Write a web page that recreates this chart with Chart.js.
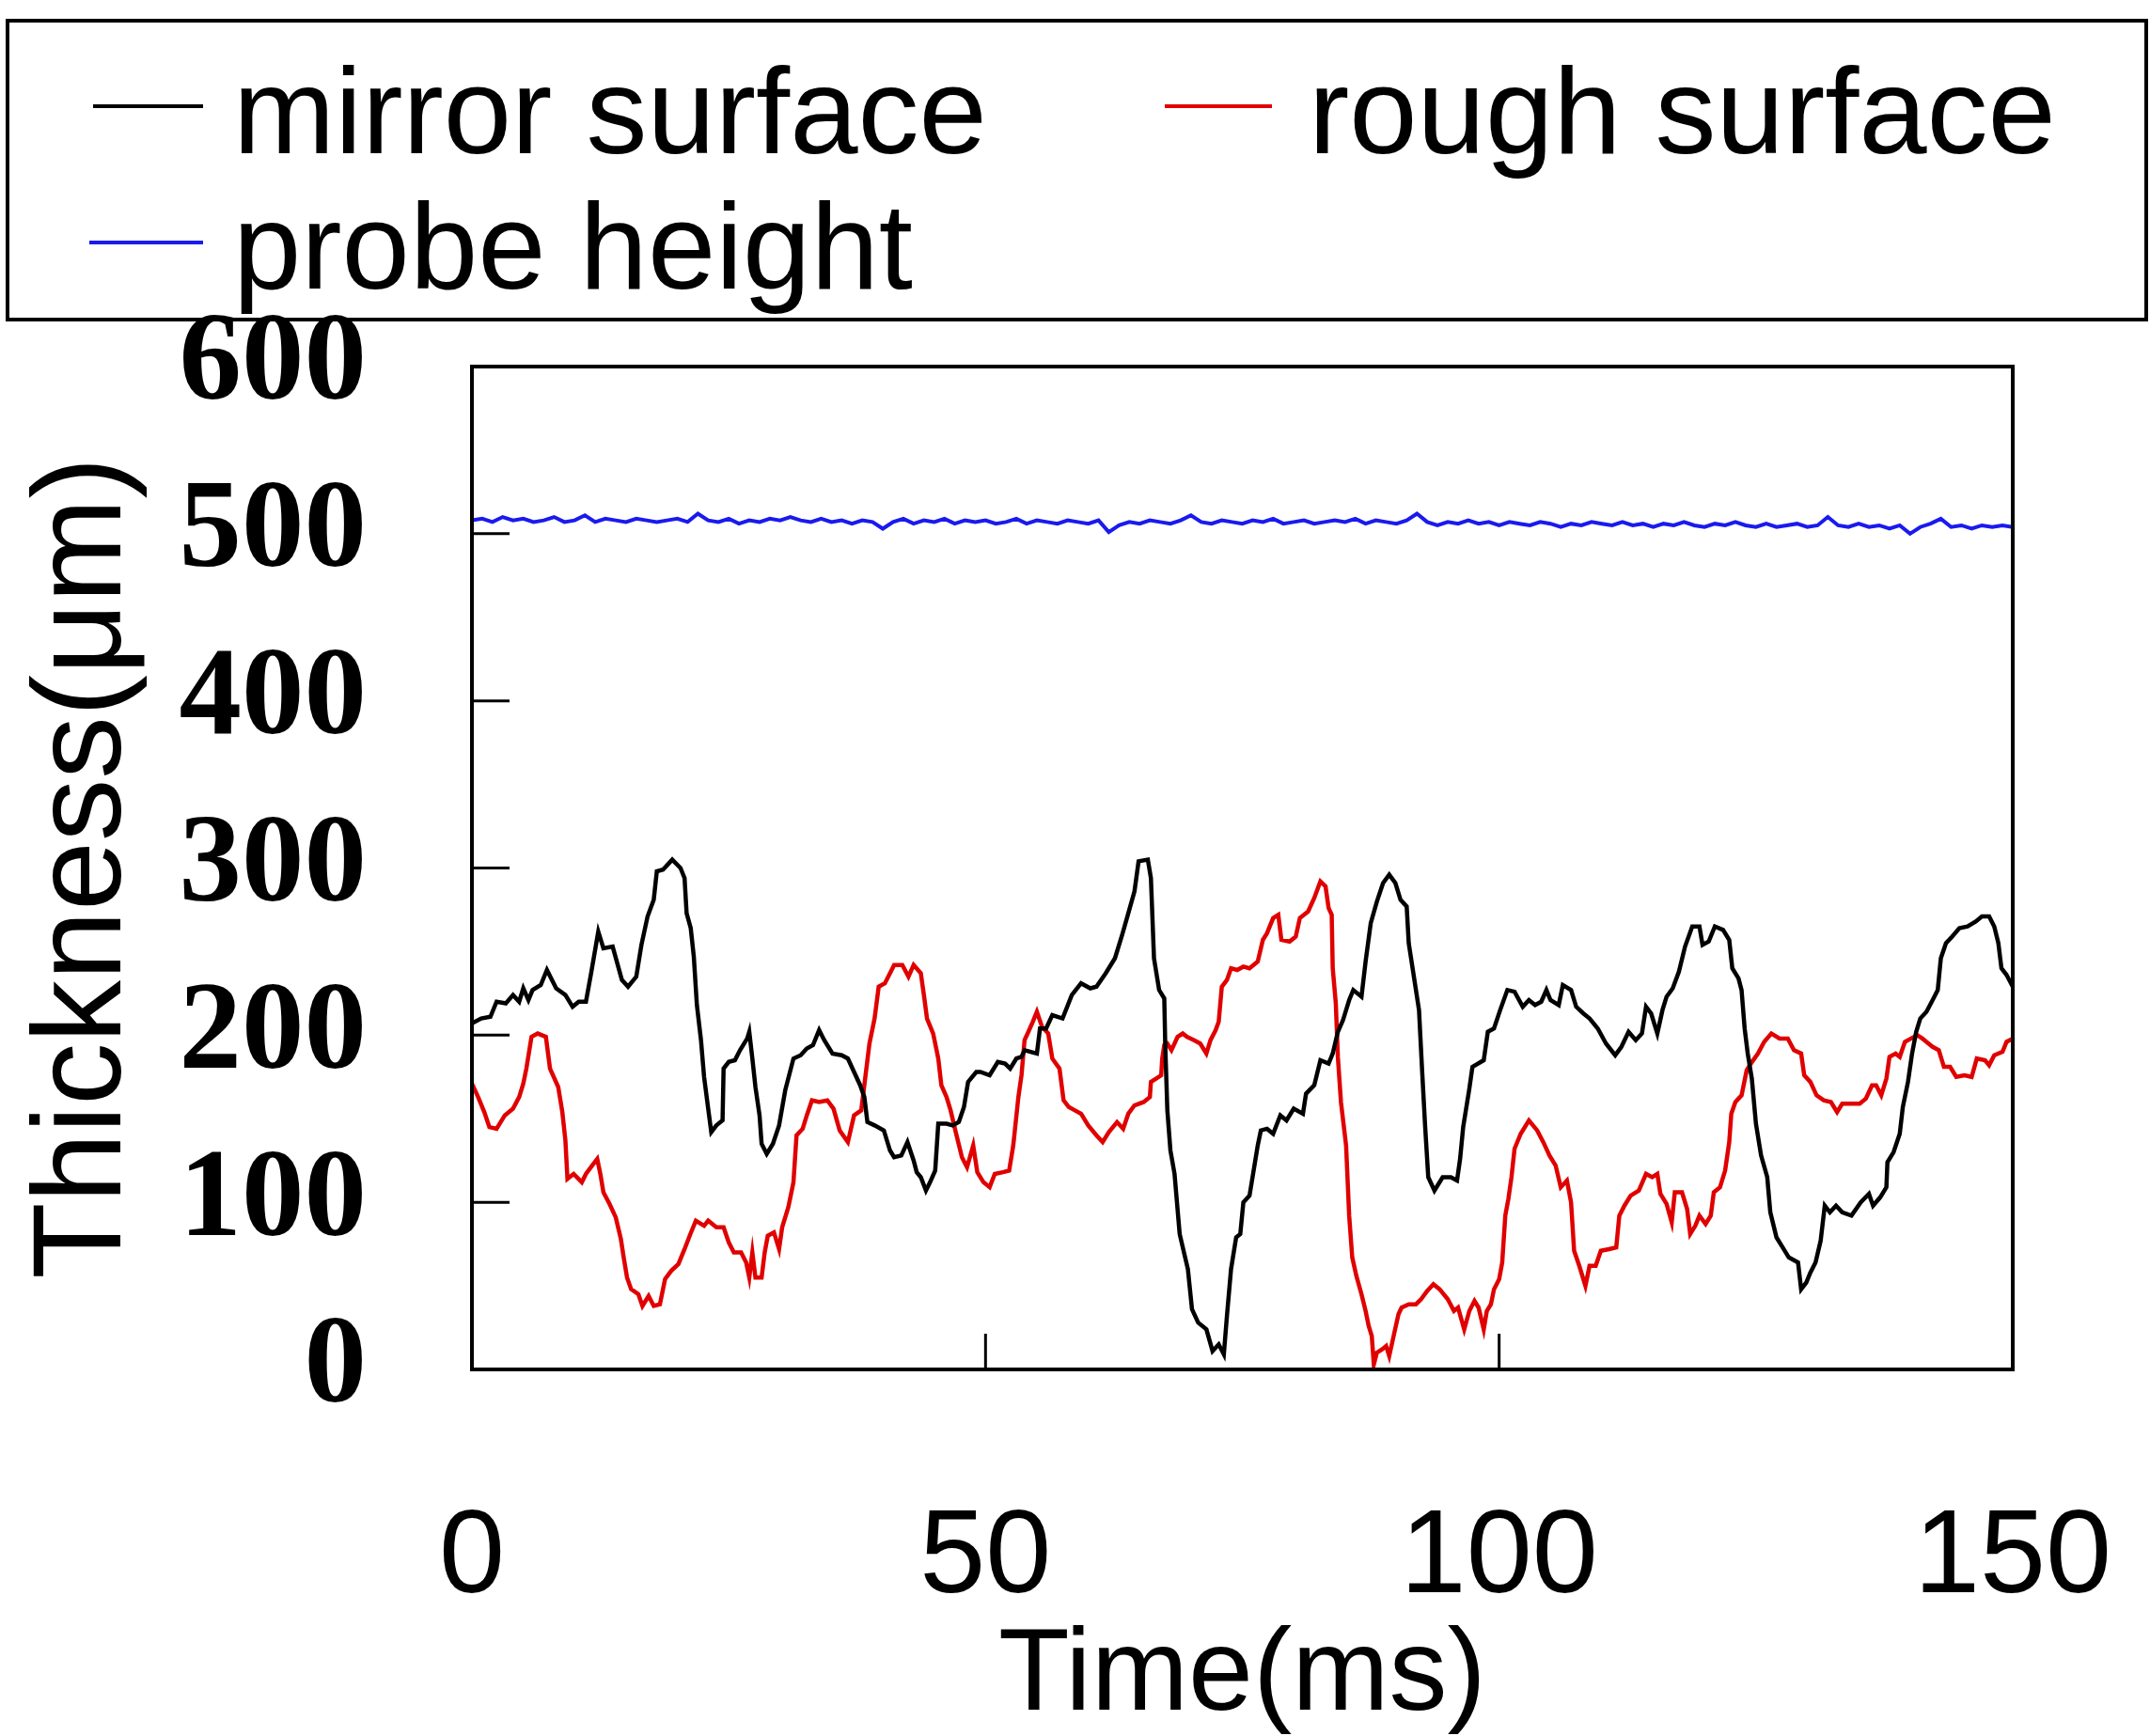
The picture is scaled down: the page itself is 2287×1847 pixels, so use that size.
<!DOCTYPE html>
<html>
<head>
<meta charset="utf-8">
<script src="https://cdn.jsdelivr.net/npm/chart.js@4.4.1/dist/chart.umd.min.js"></script>
<style>
  html, body { margin: 0; padding: 0; background: #ffffff; }
  #wrap { width: 2287px; height: 1847px; }
</style>
</head>
<body>
<div id="wrap"><canvas id="c" width="2287" height="1847"></canvas></div>
<script>
// ---------- DATA ----------
const seriesLabels = ["mirror surface", "rough surface", "probe height"];

const mirrorT = [0,0.9,1.8,2.4,3.3,4.0,4.6,5.0,5.5,5.9,6.7,7.3,8.2,9.1,9.8,10.4,11.1,11.6,12.3,12.8,13.7,14.6,15.2,16.0,16.5,17.1,17.7,18.0,18.6,19.5,20.3,20.7,20.9,21.3,21.6,21.9,22.3,22.6,23.0,23.3,23.8,24.4,24.5,25.0,25.6,26.1,26.8,27.0,27.3,27.6,28.0,28.2,28.7,29.3,29.9,30.5,31.3,32.0,32.6,33.2,33.8,34.3,35.1,36.0,36.6,37.2,37.8,38.2,38.5,39.2,40.1,40.7,41.1,41.8,42.4,43.0,43.3,43.7,44.2,44.6,45.1,45.4,46.2,46.8,47.4,47.9,48.3,49.1,49.5,50.4,51.2,51.9,52.4,53.0,53.5,53.8,55.0,55.3,55.9,56.5,57.5,58.4,59.3,60.2,60.8,61.7,62.6,63.3,63.9,64.5,64.9,65.8,66.1,66.4,66.9,67.4,67.5,67.7,68.0,68.4,68.9,69.7,70.1,70.7,71.5,72.1,72.7,73.2,73.5,73.9,74.4,74.8,75.1,75.7,76.5,76.8,77.4,78.0,78.7,79.3,80.0,80.9,81.2,82.0,82.6,83.4,83.8,84.3,84.8,85.4,85.8,86.6,87.0,87.5,88.1,88.7,89.3,89.9,90.4,91.0,91.2,91.8,92.2,92.5,92.8,93.1,93.7,94.5,95.3,95.9,96.2,96.5,97.1,97.4,98.5,98.9,99.5,100.1,100.8,101.5,102.3,102.9,103.5,104.1,104.6,105.0,105.8,106.2,107.0,107.5,108.2,108.8,109.6,110.4,111.3,111.9,112.6,113.3,113.9,114.3,114.8,115.4,115.9,116.3,116.9,117.5,118.1,118.8,119.5,119.8,120.4,121.0,121.8,122.4,122.7,123.3,123.6,123.9,124.2,124.6,125.0,125.5,126.1,126.4,127.0,127.6,128.2,129.1,129.4,129.9,130.3,130.8,131.3,131.7,132.2,132.8,133.4,134.3,135.2,136.0,136.4,137.1,137.7,137.8,138.4,139.0,139.3,139.8,140.2,140.6,141.0,141.6,142.2,142.7,143.0,143.5,144.1,144.8,145.6,146.4,147.0,147.7,148.2,148.6,148.9,149.4,150];
const mirrorV = [207,210,211,220,219,224,220,228,221,227,230,239,228,224,217,220,220,237,262,252,253,233,229,235,254,271,281,298,299,305,300,294,273,264,247,218,197,175,156,142,146,149,180,184,185,191,198,202,186,169,152,135,129,135,146,167,186,188,192,194,203,197,189,188,186,178,170,163,148,146,143,131,127,128,136,125,118,115,107,112,119,147,147,146,148,157,172,178,178,176,184,183,180,186,187,191,189,204,204,212,210,224,231,228,229,237,246,260,273,286,304,305,294,246,227,222,193,155,131,117,81,60,36,28,24,11,15,9,32,60,79,81,100,104,134,143,144,141,152,149,156,153,165,170,185,183,189,202,209,221,227,223,244,267,280,291,296,291,281,277,255,231,215,179,145,115,107,115,115,113,126,145,168,181,185,202,204,215,227,226,217,221,218,220,227,221,218,230,227,217,213,210,204,195,188,193,202,197,201,217,213,201,215,223,228,238,253,265,265,254,256,265,263,257,240,234,227,204,189,174,147,128,115,94,79,73,67,64,48,52,58,64,77,98,94,98,94,92,100,105,98,103,109,124,130,141,157,172,189,202,210,214,221,227,246,255,259,264,265,268,271,271,265,255,240,236,229];

const roughT = [0,0.6,1.2,1.7,2.4,3.2,4.0,4.6,5.0,5.3,5.8,6.4,7.2,7.6,8.4,8.8,9.1,9.3,9.9,10.7,11.1,11.7,12.2,12.5,12.8,13.4,14.0,14.5,14.8,15.1,15.5,16.2,16.6,17.2,17.7,18.3,18.8,19.4,20.1,20.7,21.2,21.8,22.6,23.0,23.8,24.5,25.0,25.5,26.2,26.7,27.0,27.3,27.6,28.2,28.5,28.8,29.4,29.9,30.2,30.8,31.3,31.6,32.2,32.6,33.1,33.8,34.6,35.2,35.8,36.6,37.2,37.9,38.7,39.2,39.6,40.2,40.7,41.1,41.9,42.5,43.0,43.7,44.0,44.3,44.9,45.4,45.7,46.2,46.6,47.1,47.7,48.2,48.8,49.2,49.8,50.4,50.9,51.7,52.3,52.7,53.2,53.5,53.8,54.1,54.6,55.0,55.5,56.1,56.5,57.2,57.6,58.1,58.7,59.3,60.0,60.8,61.4,62.0,62.8,63.4,63.9,64.5,65.4,66.0,66.1,66.6,67.1,67.2,67.4,67.7,68.1,68.7,69.2,69.6,70.3,70.9,71.5,71.9,72.4,72.7,73.0,73.5,73.9,74.5,75.1,75.7,76.5,77.0,77.4,78.0,78.5,78.8,79.6,80.2,80.6,81.4,82.0,82.6,83.1,83.4,83.7,83.8,84.1,84.3,84.6,85.1,85.4,85.7,86.1,86.6,87.0,87.3,87.6,87.8,88.1,88.6,89.0,89.3,89.8,90.2,90.5,91.2,91.9,92.4,93.0,93.6,94.2,95.0,95.6,96.0,96.6,97.1,97.6,98.0,98.5,98.8,99.2,99.5,100.0,100.3,100.6,100.9,101.2,101.5,102.1,102.9,103.7,104.3,104.9,105.5,106.0,106.6,107.0,107.3,107.8,108.4,108.8,109.4,109.9,110.7,111.4,111.7,112.2,112.8,113.6,114.3,114.9,115.4,115.7,116.3,116.8,117.1,117.8,118.3,118.6,119.1,119.5,120.1,120.6,120.9,121.5,122.0,122.4,122.6,123.0,123.6,124.1,124.5,125.2,125.8,126.5,127.3,128.1,128.7,129.4,129.7,130.3,130.9,131.6,132.3,132.9,133.4,134.3,135.1,135.7,136.3,136.7,137.2,137.7,138.0,138.6,139.0,139.5,140.1,140.7,141.2,141.6,142.2,142.8,143.3,143.9,144.5,145.3,146.0,146.5,147.3,147.7,148.2,149.0,149.4,150];
const roughV = [171,163,154,145,144,152,156,163,171,180,199,201,199,180,169,154,137,114,117,112,117,122,126,117,106,99,91,78,66,55,48,45,38,44,38,39,54,59,63,72,80,89,86,89,85,85,76,70,70,64,55,70,55,55,70,80,82,72,85,97,112,140,144,152,161,160,161,156,143,136,152,155,195,210,229,231,237,242,242,235,242,237,224,210,201,186,170,163,155,142,127,121,134,118,112,109,117,118,119,134,163,176,197,201,208,214,205,201,186,180,161,157,155,153,146,140,136,142,148,144,153,158,160,163,172,174,176,186,194,195,191,199,201,199,197,195,189,197,203,208,229,233,240,239,241,240,244,257,261,270,272,257,256,259,270,274,282,292,289,276,272,240,219,187,160,134,92,67,56,45,35,26,20,3,10,12,14,8,22,33,37,39,39,42,47,51,48,42,35,37,24,35,41,37,24,35,39,48,54,64,92,102,115,132,141,149,143,136,128,122,109,113,100,71,62,50,62,62,71,72,73,92,98,104,107,117,115,117,105,99,88,106,106,96,81,86,92,87,92,106,109,119,136,153,160,164,179,183,189,196,201,198,198,191,189,176,172,164,161,160,154,159,159,159,162,170,170,164,174,187,189,187,196,198,200,198,196,193,191,181,181,175,176,175,186,185,182,188,190,196,198];

const probeT = [0,1,2,3,4,5,6,7,8,9,10,11,12,13,14,15,16,17,18,19,20,21,22,23,24,25,26,27,28,29,30,31,32,33,34,35,36,37,38,39,40,41,42,43,44,45,46,47,48,49,50,51,52,53,54,55,56,57,58,59,60,61,62,63,64,65,66,67,68,69,70,71,72,73,74,75,76,77,78,79,80,81,82,83,84,85,86,87,88,89,90,91,92,93,94,95,96,97,98,99,100,101,102,103,104,105,106,107,108,109,110,111,112,113,114,115,116,117,118,119,120,121,122,123,124,125,126,127,128,129,130,131,132,133,134,135,136,137,138,139,140,141,142,143,144,145,146,147,148,149,150];
const probeV = [508,509,507,510,508,509,507,508,510,507,
                508,511,507,509,508,507,509,508,507,508,
                509,507,512,508,507,509,506,508,507,509,
                508,510,508,507,509,507,508,506,508,507,
                503,507,509,506,508,507,509,506,508,507,
                508,506,507,509,506,508,507,506,508,507,
                506,508,501,505,507,506,508,507,506,508,
                511,507,506,508,507,506,508,507,509,506,
                507,508,506,507,508,507,509,506,508,507,
                506,508,512,507,505,507,506,508,506,507,
                505,507,506,505,507,506,504,506,505,507,
                506,505,507,505,506,504,506,505,507,505,
                504,506,505,507,505,504,506,504,505,506,
                504,505,510,505,504,506,504,505,503,505,
                500,504,506,509,504,505,503,505,504,505,
                504];

const xTickValues = [0, 50, 100, 150];
const yTickValues = [0, 100, 200, 300, 400, 500, 600];
const xTitle = "Time(ms)";
const yTitle = "Thickness(\u03bcm)";

// ---------- helpers ----------
const toPoints = (ts, vs) => ts.map((t, i) => ({ x: t, y: vs[i] }));

const colors = ["#000000", "#e00000", "#1a1aee"];

// Frame + inner tick marks plugin
const framePlugin = {
  id: 'frame',
  afterDatasetsDraw(chart) {
    const { ctx, chartArea: a, scales } = chart;
    ctx.save();
    ctx.strokeStyle = '#000';
    ctx.lineWidth = 4;
    ctx.strokeRect(a.left, a.top, a.right - a.left, a.bottom - a.top);
    ctx.lineWidth = 3;
    yTickValues.forEach(v => {
      if (v === 0 || v === 600) return;
      const y = scales.y.getPixelForValue(v);
      ctx.beginPath(); ctx.moveTo(a.left, y); ctx.lineTo(a.left + 40, y); ctx.stroke();
    });
    xTickValues.forEach(v => {
      if (v === 0 || v === 150) return;
      const x = scales.x.getPixelForValue(v);
      ctx.beginPath(); ctx.moveTo(x, a.bottom); ctx.lineTo(x, a.bottom - 38); ctx.stroke();
    });
    ctx.restore();
  }
};

// Boxed legend drawn from the datasets
const legendPlugin = {
  id: 'boxLegend',
  afterDraw(chart) {
    const { ctx } = chart;
    const ds = chart.data.datasets;
    ctx.save();
    ctx.strokeStyle = '#000';
    ctx.lineWidth = 4;
    ctx.strokeRect(8, 22, 2275, 318);
    ctx.font = '130px "Liberation Sans", Arial, sans-serif';
    ctx.fillStyle = '#000';
    ctx.textBaseline = 'alphabetic';
    const slots = [
      { lx: 99, lw: 117, ly: 113, tx: 248, ty: 163 },
      { lx: 1239, lw: 114, ly: 113, tx: 1392, ty: 163 },
      { lx: 95, lw: 121, ly: 258, tx: 248, ty: 307 }
    ];
    ds.forEach((d, i) => {
      const s = slots[i];
      ctx.strokeStyle = d.borderColor;
      ctx.lineWidth = 4;
      ctx.beginPath(); ctx.moveTo(s.lx, s.ly); ctx.lineTo(s.lx + s.lw, s.ly); ctx.stroke();
      ctx.fillText(d.label, s.tx, s.ty);
    });
    ctx.restore();
  }
};

const bgPlugin = {
  id: 'bg',
  beforeDraw(chart) {
    const { ctx, width, height } = chart;
    ctx.save(); ctx.fillStyle = '#fff'; ctx.fillRect(0, 0, width, height); ctx.restore();
  }
};

new Chart(document.getElementById('c'), {
  type: 'line',
  data: {
    datasets: [
      { label: seriesLabels[0], data: toPoints(mirrorT, mirrorV), borderColor: colors[0], borderWidth: 4.5 },
      { label: seriesLabels[1], data: toPoints(roughT, roughV), borderColor: colors[1], borderWidth: 4.5 },
      { label: seriesLabels[2], data: toPoints(probeT, probeV), borderColor: colors[2], borderWidth: 4 }
    ]
  },
  options: {
    responsive: false,
    animation: false,
    devicePixelRatio: 1,
    elements: { point: { radius: 0 }, line: { tension: 0, fill: false } },
    layout: { padding: { top: 390, left: 0, right: 146, bottom: 0 } },
    plugins: { legend: { display: false }, tooltip: { enabled: false } },
    scales: {
      x: {
        type: 'linear', min: 0, max: 150,
        afterBuildTicks(scale) { scale.ticks = xTickValues.map(v => ({ value: v })); },
        afterFit(scale) { scale.height = 390; scale.paddingLeft = 0; scale.paddingRight = 0; },
        grid: { display: false, drawTicks: false },
        border: { display: false },
        ticks: {
          color: '#000', padding: 139, maxRotation: 0, autoSkip: false,
          font: { family: '"Liberation Sans", Arial, sans-serif', size: 126, lineHeight: 1 }
        },
        title: {
          display: true, text: xTitle, color: '#000',
          padding: { top: 0, bottom: 0 },
          font: { family: '"Liberation Sans", Arial, sans-serif', size: 124, lineHeight: 1 }
        }
      },
      y: {
        type: 'linear', min: 0, max: 600,
        afterBuildTicks(scale) { scale.ticks = yTickValues.map(v => ({ value: v })); },
        afterFit(scale) { scale.width = 502; },
        grid: { display: false, drawTicks: false },
        border: { display: false },
        ticks: {
          color: '#000', padding: 112, autoSkip: false,
          font: { family: '"Liberation Serif", "Times New Roman", serif', size: 133, weight: 'bold', lineHeight: 1 }
        },
        title: {
          display: true, text: yTitle, color: '#000',
          padding: { top: 12, bottom: 0 },
          font: { family: '"Liberation Sans", Arial, sans-serif', size: 133, lineHeight: 1.2 }
        }
      }
    }
  },
  plugins: [bgPlugin, framePlugin, legendPlugin]
});
</script>
</body>
</html>
